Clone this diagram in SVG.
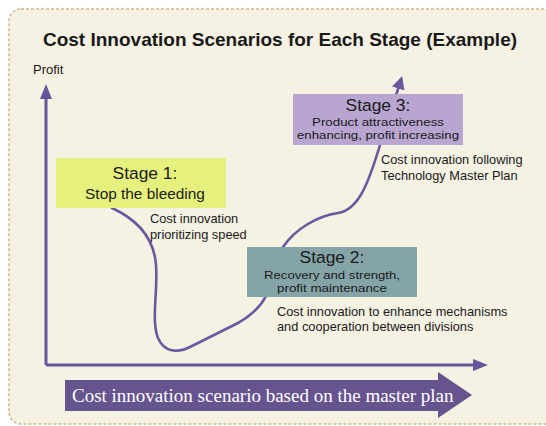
<svg xmlns="http://www.w3.org/2000/svg" width="546" height="426" viewBox="0 0 546 426">
  <defs>
    <style>
      .sans { font-family: "Liberation Sans", Arial, sans-serif; fill: #1a1a1a; }
      .title { font-size: 19px; font-weight: bold; }
      .stage { font-size: 17.4px; text-anchor: middle; }
      .sub { font-size: 11.2px; text-anchor: middle; }
      .note { font-size: 12.8px; }
      .axis { stroke: #66559a; stroke-width: 3; fill: none; }
      .curve { stroke: #6a57a0; stroke-width: 2.6; fill: none; stroke-linecap: round; stroke-linejoin: round; }
    </style>
    <marker id="axisHead" markerWidth="5" markerHeight="4" refX="1" refY="2" orient="auto" markerUnits="strokeWidth">
      <path d="M0,0 L5,2 L0,4 Z" fill="#66559a"/>
    </marker>
    <marker id="curveHead" markerWidth="5" markerHeight="5" refX="1" refY="2.5" orient="auto" markerUnits="strokeWidth">
      <path d="M0,0 L5,2.5 L0,5 Z" fill="#6a57a0"/>
    </marker>
  </defs>

  <!-- panel -->
  <rect x="0" y="0" width="546" height="426" fill="#ffffff"/>
  <rect x="9" y="9" width="560" height="415" rx="12" ry="12" fill="#f5f1e3" stroke="#cdb98c" stroke-width="1.5" stroke-dasharray="3 2"/>

  <text class="sans title" x="280" y="46" text-anchor="middle">Cost Innovation Scenarios for Each Stage (Example)</text>
  <text class="sans" x="33" y="74" font-size="13">Profit</text>

  <!-- axes and trajectory -->
  <g id="connectors">
    <path class="axis" d="M46,365 L46,96" marker-end="url(#axisHead)"/>
    <path class="axis" d="M46,365 L476,365" marker-end="url(#axisHead)"/>
    <path class="curve" d="M112,208 C138,220 154,238 156,265 C158,292 151,320 158,338 C164,352 177,354 192,346 L238,323 C252,315 261,306 266,296 C272,280 276,262 283,247 C296,228 318,216 338,213 C358,210 368,185 380,145 L399,86" marker-end="url(#curveHead)"/>
  </g>

  <g id="stage1">
    <rect x="56" y="158" width="170" height="50" fill="#e6f07c"/>
    <text class="sans stage" x="145" y="179">Stage 1:</text>
    <text class="sans" x="145" y="199" font-size="15.4" text-anchor="middle">Stop the bleeding</text>
    <text class="sans note" x="150" y="223">Cost innovation</text>
    <text class="sans note" x="150" y="239">prioritizing speed</text>
  </g>

  <g id="stage2">
    <rect x="247" y="247" width="170" height="50" fill="#85a4a7"/>
    <text class="sans stage" x="332" y="263">Stage 2:</text>
    <text class="sans sub" x="332" y="279" textLength="136" lengthAdjust="spacingAndGlyphs">Recovery and strength,</text>
    <text class="sans sub" x="332" y="292" textLength="110" lengthAdjust="spacingAndGlyphs">profit maintenance</text>
    <text class="sans note" x="277" y="316">Cost innovation to enhance mechanisms</text>
    <text class="sans note" x="277" y="331">and cooperation between divisions</text>
  </g>

  <g id="stage3">
    <rect x="293" y="94" width="170" height="51" fill="#b8a5d0"/>
    <text class="sans stage" x="378" y="111">Stage 3:</text>
    <text class="sans sub" x="378" y="126" textLength="132" lengthAdjust="spacingAndGlyphs">Product attractiveness</text>
    <text class="sans sub" x="378" y="139" textLength="162" lengthAdjust="spacingAndGlyphs">enhancing, profit increasing</text>
    <text class="sans note" x="381" y="164">Cost innovation following</text>
    <text class="sans note" x="381" y="180">Technology Master Plan</text>
  </g>

  <g id="scenario">
    <path d="M65,380 L438,380 L438,372 L472,395 L438,418 L438,411 L65,411 Z" fill="#66548f"/>
    <text x="72" y="402" font-family="'Liberation Serif', 'Times New Roman', serif" font-size="19" fill="#ffffff">Cost innovation scenario based on the master plan</text>
  </g>
</svg>
